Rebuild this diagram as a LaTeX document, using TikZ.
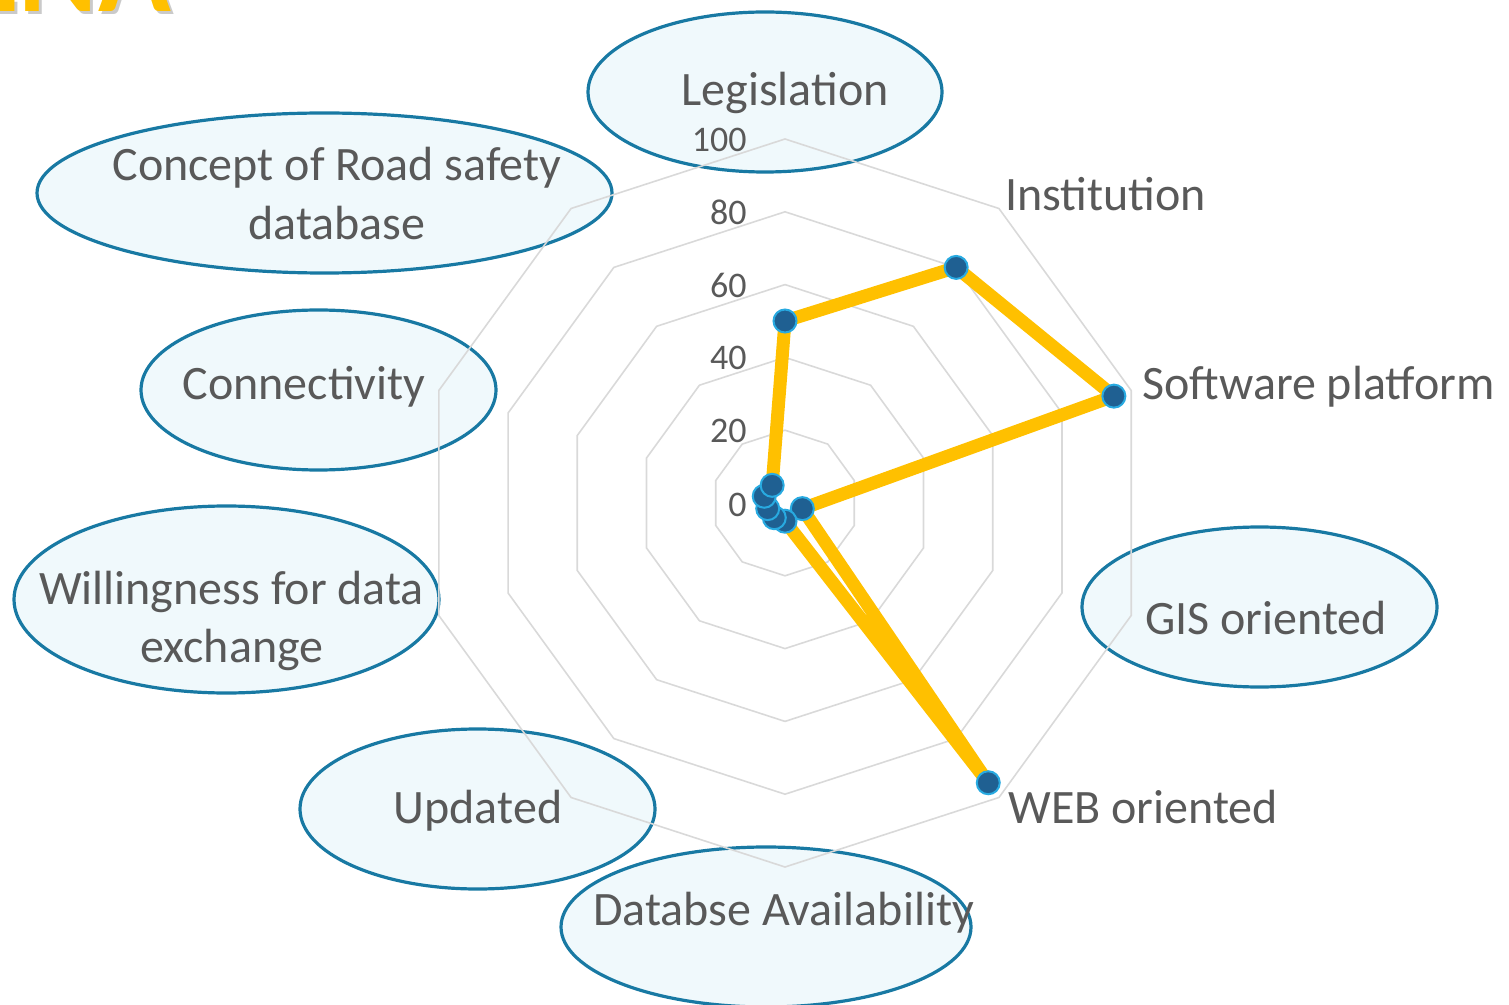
\documentclass[tikz,border=0pt]{standalone}
\usepackage{fontspec}
\setmainfont{Carlito}
\usetikzlibrary{shapes.geometric}
\definecolor{txtgray}{RGB}{89,89,89}
\definecolor{gridgray}{RGB}{217,217,217}
\definecolor{ellfill}{RGB}{240,249,252}
\definecolor{elldraw}{RGB}{24,121,163}
\definecolor{lineor}{RGB}{255,192,0}
\definecolor{markfill}{RGB}{31,96,146}
\definecolor{markdraw}{RGB}{40,170,225}
\definecolor{shadowgray}{RGB}{150,150,150}
\begin{document}
\begin{tikzpicture}[x=0.5pt,y=0.5pt,
  bubble/.style={ellipse, draw=elldraw, line width=1.6pt, fill=ellfill, inner sep=0pt},
  cat/.style={text=txtgray, font=\fontsize{24}{29.5}\selectfont, inner sep=0pt, anchor=base},
  catw/.style={cat, anchor=base west},
  ticklbl/.style={text=txtgray, font=\fontsize{18}{22}\selectfont, inner sep=0pt, anchor=base east},
  ring/.style={draw=gridgray, line width=0.8pt},
  series/.style={draw=lineor, line width=6.5pt, line join=round},
  marker/.style={circle, fill=markfill, draw=markdraw, line width=1pt, minimum size=11.5pt, inner sep=0pt},
  titletxt/.style={font=\bfseries\fontsize{60}{72}\selectfont, inner sep=0pt, anchor=base west}
]
\useasboundingbox (0,0) rectangle (1509,-1005);

% title fragment (cut off at the top edge)
\node[titletxt, text=shadowgray, opacity=0.5] (titleshadow) at (-37,-15) {ENA};
\node[titletxt, text=lineor] (title) at (-40,-12) {ENA};

% ellipses behind the chart
\node[bubble, minimum width=177pt, minimum height=80pt] (eleg) at (765,-92) {};
\node[bubble, minimum width=287.5pt, minimum height=80pt] (econ) at (324.5,-193) {};
\node[bubble, minimum width=177.5pt, minimum height=80pt] (econn) at (318.5,-390) {};
\node[bubble, minimum width=212.5pt, minimum height=93.5pt] (ewil) at (226.5,-599.5) {};
\node[bubble, minimum width=177.5pt, minimum height=80pt] (eupd) at (477.5,-809) {};
\node[bubble, minimum width=205pt, minimum height=80pt] (edb) at (766,-927) {};
\node[bubble, minimum width=177.5pt, minimum height=80pt] (egis) at (1259.5,-607) {};

\begin{scope}[shift={(785,-503)}]
  % grid rings
  \foreach \k in {1,...,5} {
    \pgfmathsetmacro{\r}{72.8*\k}
    \draw[ring] (90:\r) -- (54:\r) -- (18:\r) -- (-18:\r) -- (-54:\r) -- (-90:\r)
      -- (-126:\r) -- (-162:\r) -- (162:\r) -- (126:\r) -- cycle;
  }
  % data points
  \coordinate (p1) at (90:{50*3.64});
  \coordinate (p2) at (54:{80*3.64});
  \coordinate (p3) at (18:{95*3.64});
  \coordinate (p4) at (-18:{5*3.64});
  \coordinate (p5) at (-54:{95*3.64});
  \coordinate (p6) at (-90:{5*3.64});
  \coordinate (p7) at (-126:{5*3.64});
  \coordinate (p8) at (-162:{5*3.64});
  \coordinate (p9) at (162:{6*3.64});
  \coordinate (p10) at (126:{6*3.64});
  \draw[series] (p1) -- (p2) -- (p3) -- (p4) -- (p5) -- (p6) -- (p7) -- (p8) -- (p9) -- (p10) -- cycle;
  \foreach \i in {1,...,10} {
    \node[marker] (m\i) at (p\i) {};
  }
\end{scope}

% axis value labels
\node[ticklbl] (t100) at (747,-152) {100};
\node[ticklbl] (t80) at (747,-225) {80};
\node[ticklbl] (t60) at (747,-298) {60};
\node[ticklbl] (t40) at (747,-370) {40};
\node[ticklbl] (t20) at (747,-443) {20};
\node[ticklbl] (t0) at (747,-516) {0};

% category labels
\node[cat] (lleg) at (785,-106) {Legislation};
\node[catw] (linst) at (1005,-211) {Institution};
\node[catw] (lsoft) at (1142,-400) {Software platform};
\node[cat] (lgis) at (1266,-634) {GIS oriented};
\node[catw] (lweb) at (1008,-823) {WEB oriented};
\node[cat] (ldb) at (783.5,-925) {Databse Availability};
\node[cat] (lupd) at (478,-823) {Updated};
\node[cat] (lwil1) at (231.5,-604) {Willingness for data};
\node[cat] (lwil2) at (232,-662) {exchange};
\node[cat] (lconn) at (304,-400) {Connectivity};
\node[cat] (lcon1) at (337,-181) {Concept of Road safety};
\node[cat] (lcon2) at (337,-240) {database};
\end{tikzpicture}
\end{document}
